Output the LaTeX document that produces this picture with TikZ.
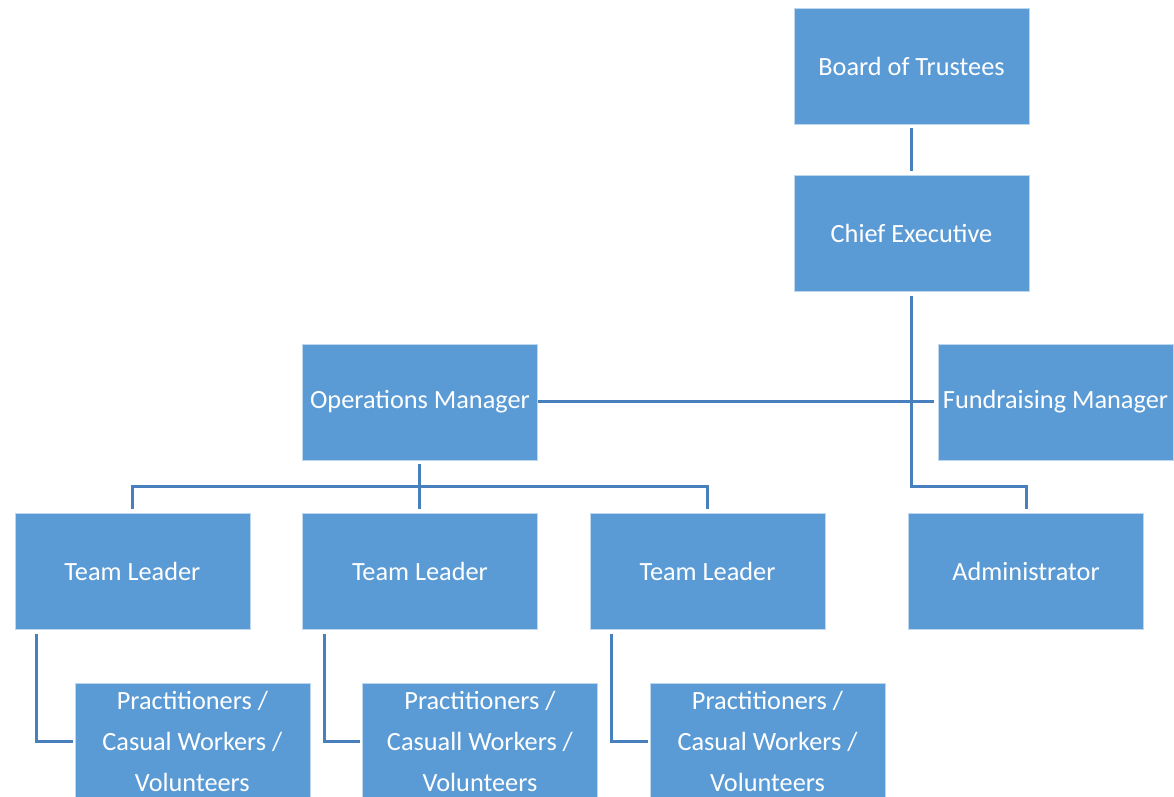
\documentclass[tikz,border=0pt]{standalone}
\usepackage{fontspec}
\setmainfont{Carlito}
\usepackage{xcolor}
\usepackage{tikz}
\definecolor{boxblue}{RGB}{91, 155, 213}
\definecolor{lineblue}{RGB}{72, 128, 190}
\usetikzlibrary{positioning, calc}

\begin{document}
\begin{tikzpicture}[
    node distance=1.27cm,
    role/.style={rectangle, draw=white!60!boxblue, line width=0.4pt, fill=boxblue, minimum width=5.875cm, minimum height=2.9cm, inner sep=0pt, align=center, text=white, font=\fontsize{18.7}{29}\selectfont},
    link/.style={draw=lineblue, line width=2.1pt, shorten >=0.1cm, shorten <=0.1cm}
]
    \useasboundingbox (0,0) rectangle (29.35,-19.925);
    \node[role] at (22.7875,-1.65) (board) {Board of Trustees};
    \node[role, below=of board] (chief) {Chief Executive};
    \node[role, below left=1.3cm and 6.4cm of chief] (ops) {Operations Manager};
    \node[role, right=10cm of ops] (fund) {Fundraising Manager};
    \node[role, below=1.33cm of ops] (lead2) {Team Leader};
    \node[role, left=1.3cm of lead2] (lead1) {Team Leader};
    \node[role, right=1.3cm of lead2] (lead3) {Team Leader};
    \node[role, right=2.075cm of lead3] (admin) {Administrator};
    \node[role, below=1.33cm of lead1, xshift=1.5cm] (staff1) {Practitioners /\\Casual Workers /\\Volunteers};
    \node[role, below=1.33cm of lead2, xshift=1.5cm] (staff2) {Practitioners /\\Casuall Workers /\\Volunteers};
    \node[role, below=1.33cm of lead3, xshift=1.5cm] (staff3) {Practitioners /\\Casual Workers /\\Volunteers};

    \coordinate (leftbus) at ($(lead2.north)+(0,0.675)$);
    \coordinate (rightbus) at ($(admin.north)+(0,0.675)$);

    \draw[link] (board) -- (chief);
    \draw[link] (chief.south) |- (rightbus) -| (admin.north);
    \draw[link, shorten <=0pt] (ops.east) -- (fund.west);
    \draw[link] (ops.south) -- (lead2.north);
    \draw[link] (lead1.north) |- (leftbus) -| (lead3.north);
    \draw[link, shorten >=0.05cm] ($(lead1.south west)+(0.55,0)$) |- (staff1.west);
    \draw[link, shorten >=0.05cm] ($(lead2.south west)+(0.55,0)$) |- (staff2.west);
    \draw[link, shorten >=0.05cm] ($(lead3.south west)+(0.55,0)$) |- (staff3.west);
\end{tikzpicture}
\end{document}
